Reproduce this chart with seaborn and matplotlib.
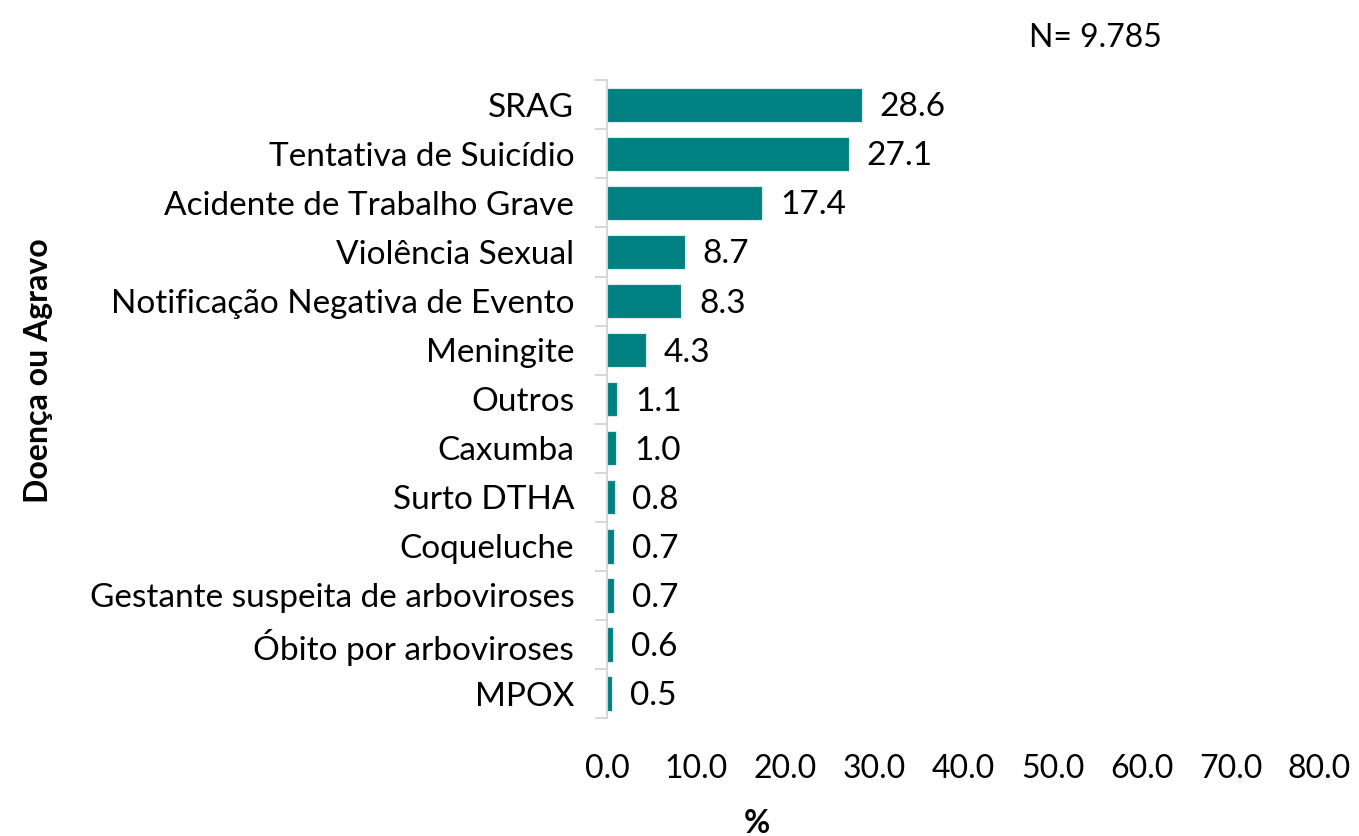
import pandas as pd
import numpy as np
import seaborn as sns
import matplotlib.pyplot as plt

# Dados: notificações por doença ou agravo (%)
doencas = ['SRAG', 'Tentativa de Suicídio', 'Acidente de Trabalho Grave',
           'Violência Sexual', 'Notificação Negativa de Evento', 'Meningite',
           'Outros', 'Caxumba', 'Surto DTHA', 'Coqueluche',
           'Gestante suspeita de arboviroses', 'Óbito por arboviroses', 'MPOX']
percentuais = [28.6, 27.1, 17.4, 8.7, 8.3, 4.3, 1.1, 1.0, 0.8, 0.7, 0.7, 0.6, 0.5]
total_n = 'N= 9.785'

df = pd.DataFrame({'doenca': doencas, 'pct': percentuais})

sns.set_style('white')
plt.rcParams['font.family'] = ['Lato', 'DejaVu Sans']
plt.rcParams['text.color'] = 'black'
plt.rcParams['xtick.color'] = 'black'
plt.rcParams['ytick.color'] = 'black'
plt.rcParams['axes.labelcolor'] = 'black'

fig = plt.figure(figsize=(13.59, 8.36), dpi=100)
ax = fig.add_axes([0.447, 0.141, 0.524, 0.763])

sns.barplot(data=df, x='pct', y='doenca', orient='h', color='#008080',
            saturation=1, width=0.7, edgecolor='#d9ecec', linewidth=0.8, ax=ax)

for i, v in enumerate(df['pct']):
    ax.text(v + 2.0, i + 0.05, f'{v:.1f}', va='center', ha='left', fontsize=24, color='black')

ax.set_xlim(0, 80)
ax.set_ylim(len(doencas) - 0.5, -0.5)
ax.set_xticks(np.arange(0, 81, 10))
ax.set_xticklabels([f'{t:.1f}' for t in np.arange(0, 81, 10)])
ax.tick_params(axis='x', length=0, pad=26, labelsize=23)
ax.tick_params(axis='y', which='major', length=0, pad=24, labelsize=24)
# marcas entre categorias, como no Excel
ax.set_yticks(np.arange(-0.5, len(doencas)), minor=True)
ax.tick_params(axis='y', which='minor', left=True, length=9, color='#d0d0d0',
               width=1.2, direction='out')

for s in ['top', 'right', 'bottom']:
    ax.spines[s].set_visible(False)
ax.spines['left'].set_color('#d0d0d0')
ax.spines['left'].set_linewidth(1.2)

ax.set_xlabel('%', fontsize=23, fontweight='bold')
ax.xaxis.set_label_coords(0.21, -0.142)
ax.set_ylabel('Doença ou Agravo', fontsize=23, fontweight='bold')
ax.yaxis.set_label_coords(-0.778, 0.545)

fig.text(0.757, 0.955, total_n, fontsize=23, ha='left', va='center')

plt.savefig('out.png', dpi=100)
